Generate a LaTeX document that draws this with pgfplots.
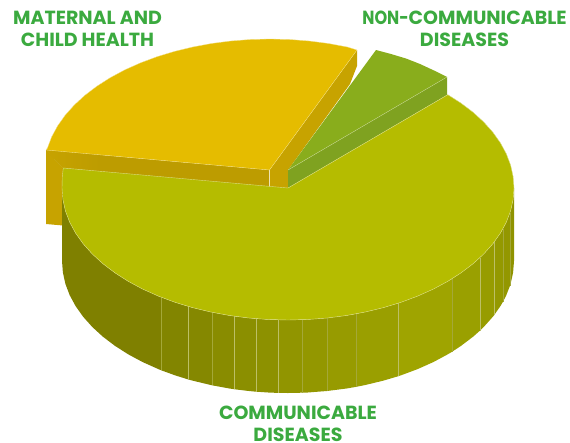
\documentclass[border=0pt]{standalone}
\usepackage{fontspec}
\setmainfont{Poppins}
\usepackage{pgfplots}
\pgfplotsset{compat=1.18}

\definecolor{labelgreen}{HTML}{3BAA3F}
% tops and cut faces of the three slices
\definecolor{mchTop}{HTML}{E5BC00}
\definecolor{mchFront}{HTML}{BD9C00}
\definecolor{mchSide}{HTML}{C7A300}
\definecolor{ncdTop}{HTML}{89AD1C}
\definecolor{ncdSide}{HTML}{7FA220}
\definecolor{cdTop}{HTML}{B5BC00}
% wall panels of the large slice, left to right
\definecolor{cdWall01}{HTML}{7F8000}
\definecolor{cdWall02}{HTML}{828500}
\definecolor{cdWall03}{HTML}{858800}
\definecolor{cdWall04}{HTML}{898C00}
\definecolor{cdWall05}{HTML}{8B8F00}
\definecolor{cdWall06}{HTML}{8D9100}
\definecolor{cdWall07}{HTML}{919500}
\definecolor{cdWall08}{HTML}{939700}
\definecolor{cdWall09}{HTML}{979B00}
\definecolor{cdWall10}{HTML}{9A9F00}
\definecolor{cdWall11}{HTML}{9FA400}
\definecolor{cdWall12}{HTML}{9AA000}
\definecolor{cdWall13}{HTML}{979C00}
\definecolor{cdWall14}{HTML}{949900}
\definecolor{cdWall15}{HTML}{939700}
\definecolor{cdWall16}{HTML}{8F9300}
\definecolor{faintSeam}{HTML}{A4A838}
\definecolor{brightSeam}{HTML}{BCBF66}

% one filled patch of the chart, given by its outline
\newcommand{\patch}[2]{\addplot[fill=#1,draw=none,forget plot] coordinates {#2} --cycle;}
% a pale seam between two wall panels of the large slice
\newcommand{\seam}[3]{\addplot[draw=#3,line width=0.6pt,forget plot] coordinates {#1 #2};}

\begin{document}
\begin{tikzpicture}
\useasboundingbox (0,0) rectangle (570pt,442pt);
\begin{axis}[
  at={(0,0)},anchor=south west,
  width=570pt,height=442pt,scale only axis,
  xmin=0,xmax=570,ymin=0,ymax=442,y dir=reverse,
  axis lines=none,clip=false,
]
% Maternal and child health: outer wall, cut faces, top
\patch{mchSide}{(46,150)(46,224)(63,225.5)(63,168)}
\patch{mchFront}{(46,150)(269.5,170)(269.5,188)(63,168)}
\addplot[left color=mchSide,right color=mchFront,draw=none,forget plot] coordinates {(46,150)(100,154.8)(100,171.3)(63,168)} --cycle;
\patch{mchSide}{(269.5,170)(357,50)(357,66)(350,84)(288,170)(288,188)(269.5,188)}
\addplot[draw=white!70!mchSide,line width=0.4pt,forget plot] coordinates {(269.5,170)(269.5,188)};
\addplot[fill=mchTop,draw=white!55!mchTop,line width=0.3pt,forget plot] coordinates {
  (269.5,170)(357,50)(347.3,47)(328.5,43.5)(309.2,41)(289.7,39.5)(270,39)(250.3,39.5)
  (230.8,41)(211.5,43.5)(192.7,47)(174.5,51.4)(157,56.7)(140.4,62.9)(124.7,69.9)
  (110.2,77.7)(96.9,86.2)(84.9,95.3)(74.3,105)(65.2,115.2)(57.6,125.9)(51.7,136.8)
  (47.4,148.1)(46,150)} --cycle;

% Non-communicable diseases: cut face and top
\patch{ncdSide}{(288,170)(447,77)(447,95)(288,188)}
\addplot[fill=ncdTop,draw=none,forget plot] coordinates {
  (288,170)(376,50)(391,54)(406,58.5)(420,64)(434,70.5)(447,77)} --cycle;
\addplot[draw=white!55!ncdTop,line width=0.3pt,forget plot] coordinates {(288,170)(447,77)};

% Communicable diseases: wall panels, darkest on the left
\patch{cdWall01}{(62,188)(62.9,199.5)(65.4,210.9)(69.7,222.2)(75.6,233.1)(83.2,243.8)(92.3,254)(102.9,263.7)(114.9,272.8)(128.2,281.3)(142.7,289.1)(158.4,296.1)(161,297.2)
  (161,370.2)(158.4,369.1)(142.7,362.1)(128.2,354.3)(114.9,345.8)(102.9,336.7)(92.3,327)(83.2,316.8)(75.6,306.1)(69.7,295.2)(65.4,283.9)(62.9,272.5)(62,261)}
\patch{cdWall02}{(161,297.2)(175,302.3)(188,306.4)(188,379.4)(175,375.3)(161,370.2)}
\patch{cdWall03}{(188,306.4)(192.5,307.6)(210.7,312)(212,312.3)(212,385.3)(210.7,385)(192.5,380.6)(188,379.4)}
\patch{cdWall04}{(212,312.3)(229.5,315.5)(234,316.2)(234,389.2)(229.5,388.5)(212,385.3)}
\patch{cdWall05}{(234,316.2)(248.8,318)(256,318.7)(256,391.7)(248.8,391)(234,389.2)}
\patch{cdWall06}{(256,318.7)(268.3,319.5)(278,319.9)(278,392.9)(268.3,392.5)(256,391.7)}
\patch{cdWall07}{(278,319.9)(288,320)(302,319.7)(302,392.7)(288,393)(278,392.9)}
\patch{cdWall08}{(302,319.7)(307.7,319.5)(327,318)(327,391)(307.7,392.5)(302,392.7)}
\patch{cdWall09}{(327,318)(346.5,315.5)(356,313.9)(356,386.9)(346.5,388.5)(327,391)}
\patch{cdWall10}{(356,313.9)(365.3,312)(383.5,307.6)(398,303.3)(398,376.3)(383.5,380.6)(365.3,385)(356,386.9)}
\patch{cdWall11}{(398,303.3)(401,302.3)(417.6,296.1)(433.3,289.1)(447.8,281.3)(452,278.8)(452,351.8)(447.8,354.3)(433.3,362.1)(417.6,369.1)(401,375.3)(398,376.3)}
\patch{cdWall12}{(452,278.8)(461.1,272.8)(473.1,263.7)(480,257.6)(480,330.6)(473.1,336.7)(461.1,345.8)(452,351.8)}
\patch{cdWall13}{(480,257.6)(483.7,254)(492.8,243.8)(494,242.3)(494,315.3)(492.8,316.8)(483.7,327)(480,330.6)}
\patch{cdWall14}{(494,242.3)(500.4,233.1)(503,228.7)(503,301.7)(500.4,306.1)(494,315.3)}
\patch{cdWall15}{(503,228.7)(506.3,222.2)(510,212.7)(510,285.7)(506.3,295.2)(503,301.7)}
\patch{cdWall16}{(510,212.7)(510.6,210.9)(513.1,199.5)(514,188)(514,261)(513.1,272.5)(510.6,283.9)(510,285.7)}

% seams between the panels
\seam{(161,297.2)}{(161,370.2)}{faintSeam}
\seam{(188,306.4)}{(188,379.4)}{brightSeam}
\seam{(212,312.3)}{(212,385.3)}{faintSeam}
\seam{(234,316.2)}{(234,389.2)}{brightSeam}
\seam{(256,318.7)}{(256,391.7)}{brightSeam}
\seam{(278,319.9)}{(278,392.9)}{brightSeam}
\seam{(302,319.7)}{(302,392.7)}{faintSeam}
\seam{(327,318)}{(327,391)}{faintSeam}
\seam{(356,313.9)}{(356,386.9)}{faintSeam}
\seam{(398,303.3)}{(398,376.3)}{brightSeam}
\seam{(452,278.8)}{(452,351.8)}{faintSeam}
\seam{(480,257.6)}{(480,330.6)}{brightSeam}
\seam{(494,242.3)}{(494,315.3)}{brightSeam}
\seam{(503,228.7)}{(503,301.7)}{faintSeam}
\seam{(510,212.7)}{(510,285.7)}{faintSeam}

% Communicable diseases: top
\addplot[fill=cdTop,draw=white!50!cdTop,line width=0.4pt,forget plot] coordinates {
  (288,188)(447.8,94.7)(461.1,103.2)(473.1,112.3)(483.7,122)(492.8,132.2)(500.4,142.9)
  (506.3,153.8)(510.6,165.1)(513.1,176.5)(514,188)(513.1,199.5)(510.6,210.9)(506.3,222.2)
  (500.4,233.1)(492.8,243.8)(483.7,254)(473.1,263.7)(461.1,272.8)(447.8,281.3)(433.3,289.1)
  (417.6,296.1)(401,302.3)(383.5,307.6)(365.3,312)(346.5,315.5)(327.2,318)(307.7,319.5)
  (288,320)(268.3,319.5)(248.8,318)(229.5,315.5)(210.7,312)(192.5,307.6)(175,302.3)
  (158.4,296.1)(142.7,289.1)(128.2,281.3)(114.9,272.8)(102.9,263.7)(92.3,254)(83.2,243.8)
  (75.6,233.1)(69.7,222.2)(65.4,210.9)(62.9,199.5)(62,188)(62.3,176.5)(63.3,168)} --cycle;

% slice names
\node[font=\fontsize{19}{22}\selectfont\bfseries,text=labelgreen,align=center,inner sep=0pt]
  at (axis cs:87.5,29) {MATERNAL AND\\CHILD HEALTH};
\node[font=\fontsize{19}{22}\selectfont\bfseries,text=labelgreen,align=center,inner sep=0pt]
  at (axis cs:464.5,29) {{\addfontfeature{FakeStretch=0.85}NON-}COMMUNICABLE\\DISEASES};
\node[font=\fontsize{19}{22}\selectfont\bfseries,text=labelgreen,align=center,inner sep=0pt]
  at (axis cs:298,423.5) {COMMUNICABLE\\DISEASES};
\end{axis}
\end{tikzpicture}
\end{document}
